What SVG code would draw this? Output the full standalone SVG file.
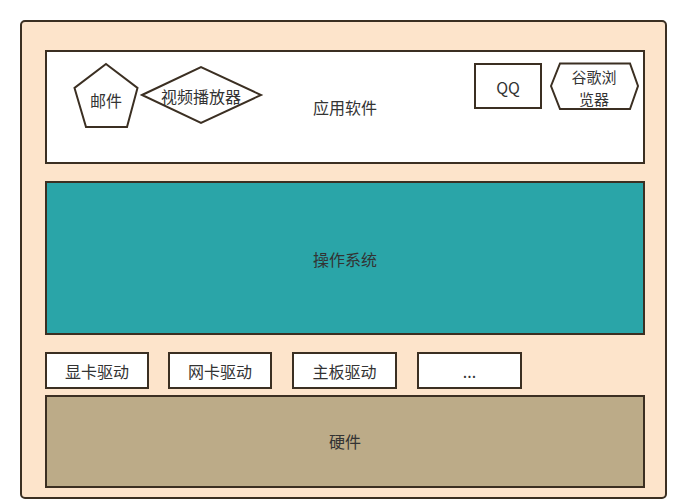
<svg xmlns="http://www.w3.org/2000/svg" width="689" height="500" viewBox="0 0 689 500">
<style>
.s{stroke:#3b2f22;stroke-width:2;}
.t{font-family:"Noto Sans CJK SC","Liberation Sans",sans-serif;font-size:16px;fill:#333;text-anchor:middle;dominant-baseline:central;}
.sm{font-size:15px;}
</style>
<rect width="689" height="500" fill="#ffffff"/>
<g id="outer"><rect class="s" x="21" y="21" width="645" height="477" rx="4" fill="#fde4cb"/></g>
<g id="app">
<rect class="s" x="46" y="51" width="598" height="112" fill="#ffffff"/>
<text class="t" x="345" y="107">应用软件</text>
</g>
<g id="mail">
<polygon class="s" points="106,64 137.5,88 127,127 86,127 74.5,88" fill="#ffffff"/>
<text class="t" x="106" y="100">邮件</text>
</g>
<g id="video">
<polygon class="s" points="142,95 201,67 261,95 201,123" fill="#ffffff"/>
<text class="t" x="201" y="96">视频播放器</text>
</g>
<g id="qq">
<rect class="s" x="475" y="64" width="66" height="44" fill="#ffffff"/>
<text class="t" x="508" y="87">QQ</text>
</g>
<g id="chrome">
<polygon class="s" points="551,86 560,63.5 630,63.5 638,86 630,109 560,109" fill="#ffffff"/>
<text class="t sm" x="594" y="76">谷歌浏</text>
<text class="t sm" x="594" y="98">览器</text>
</g>
<g id="os">
<rect class="s" x="46" y="182" width="598" height="152" fill="#2aa5a8"/>
<text class="t" x="345" y="259">操作系统</text>
</g>
<g id="driver1">
<rect class="s" x="46" y="353" width="102" height="35" fill="#ffffff"/>
<text class="t" x="97" y="370.5">显卡驱动</text>
</g>
<g id="driver2">
<rect class="s" x="169" y="353" width="102" height="35" fill="#ffffff"/>
<text class="t" x="220" y="370.5">网卡驱动</text>
</g>
<g id="driver3">
<rect class="s" x="293" y="353" width="103" height="35" fill="#ffffff"/>
<text class="t" x="344.5" y="370.5">主板驱动</text>
</g>
<g id="driver4">
<rect class="s" x="418" y="353" width="103" height="35" fill="#ffffff"/>
<text class="t" x="469.5" y="370.5">...</text>
</g>
<g id="hardware">
<rect class="s" x="46" y="396" width="598" height="91" fill="#bcab88"/>
<text class="t" x="345" y="441">硬件</text>
</g>
<g id="connectors"></g>
</svg>
